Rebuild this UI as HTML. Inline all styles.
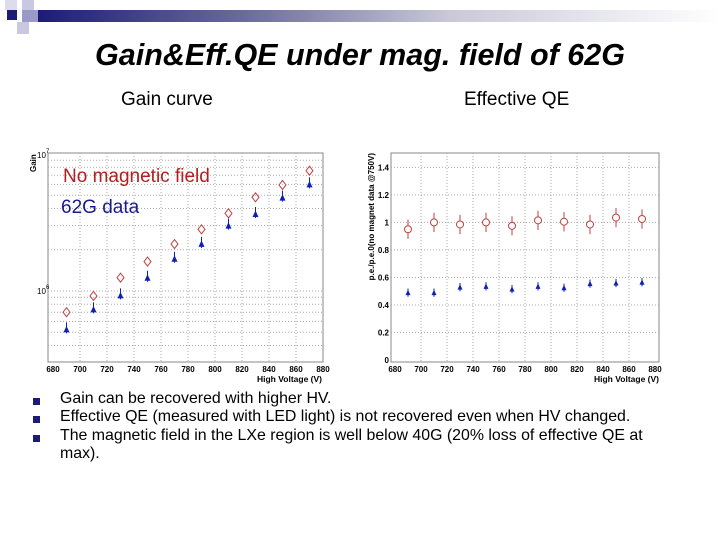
<!DOCTYPE html>
<html><head><meta charset="utf-8"><style>
body{margin:0;width:720px;height:540px;background:#fff;position:relative;overflow:hidden;font-family:"Liberation Sans",sans-serif}
.abs{position:absolute}
</style></head><body>
<div class="abs" style="left:38px;top:10px;width:682px;height:12px;background:linear-gradient(90deg,#1c1c78,#6a6a9a 30%,#c8c8d8 60%,#fff)"></div>
<div class="abs" style="left:7px;top:10px;width:10px;height:10px;background:#1c1c78"></div>
<div class="abs" style="left:22px;top:0px;width:12px;height:10px;background:#c8c8e0"></div>
<div class="abs" style="left:22px;top:10px;width:16px;height:12px;background:#9a9ac8"></div>
<div class="abs" style="left:17px;top:22px;width:12px;height:12px;background:#c8c8e0"></div>
<div class="abs" style="left:5px;top:0px;width:12px;height:10px;background:#dcdcec"></div>
<div class="abs" style="left:0;width:720px;top:38px;text-align:center;font-size:30.5px;font-weight:bold;font-style:italic">Gain&amp;Eff.QE under mag. field of 62G</div>
<div class="abs" style="left:121px;top:89px;font-size:19px">Gain curve</div>
<div class="abs" style="left:464px;top:89px;font-size:19px">Effective QE</div>
<svg class="abs" style="left:0;top:0" width="720" height="540" id="svg"></svg>
<div class="abs" style="left:60px;top:390px;font-size:15.9px;line-height:18.3px;width:600px">
<div>Gain can be recovered with higher HV.</div>
<div style="white-space:nowrap">Effective QE (measured with LED light) is not recovered even when HV changed.</div>
<div>The magnetic field in the LXe region is well below 40G (20% loss of effective QE at<br>max).</div>
</div>
<div class="abs" style="left:33px;top:398px;width:7px;height:7px;background:#1c1c78"></div>
<div class="abs" style="left:33px;top:416px;width:7px;height:7px;background:#1c1c78"></div>
<div class="abs" style="left:33px;top:435px;width:7px;height:7px;background:#1c1c78"></div>
<script>
const hv=[690,710,730,750,770,790,810,830,850,870];
const gainRed=[7.0e5,9.2e5,1.25e6,1.64e6,2.2e6,2.82e6,3.69e6,4.83e6,5.94e6,7.55e6];
const gainBlue=[5.25e5,7.35e5,9.3e5,1.25e6,1.72e6,2.21e6,3.0e6,3.65e6,4.8e6,6.0e6];
const qeRed=[0.95,1.0,0.985,1.0,0.975,1.015,1.005,0.985,1.035,1.025];
const qeBlue=[0.49,0.49,0.53,0.535,0.515,0.535,0.525,0.555,0.56,0.565];
const xTicks=[680,700,720,740,760,780,800,820,840,860,880];
const qeTicks=[0,0.2,0.4,0.6,0.8,1,1.2,1.4];
const svg=document.getElementById('svg');const NS='http://www.w3.org/2000/svg';
function el(t,a,txt){const e=document.createElementNS(NS,t);for(const k in a)e.setAttribute(k,a[k]);if(txt!==undefined)e.textContent=txt;svg.appendChild(e);return e;}
// left chart
const L={x0:48,x1:323,y0:153,y1:362};
const gx=v=>53+(v-680)*(323-53)/200;
const gy=v=>154+(7-Math.log10(v))*137;
const r1=el('rect',{x:L.x0,y:L.y0,width:L.x1-L.x0,height:L.y1-L.y0,fill:'#fff',stroke:'#888'});

for(const t of xTicks){const x=gx(t);if(t>680&&t<880){const g=el('line',{x1:x,x2:x,y1:L.y0,y2:L.y1,stroke:'#aaa','stroke-dasharray':'1,2'});}
const tl=el('text',{x:x,y:372,'font-size':8,'font-weight':'bold','text-anchor':'middle'},t);}
for(const d of [3e5,4e5,5e5,6e5,7e5,8e5,9e5,1e6,2e6,3e6,4e6,5e6,6e6,7e6,8e6,9e6]){const y=gy(d);if(y<L.y1&&y>L.y0){const g=el('line',{x1:L.x0,x2:L.x1,y1:y,y2:y,stroke:'#aaa','stroke-dasharray':'1,2'});}}
let t1=el('text',{x:37,y:158,'font-size':8},'10');
t1=el('text',{x:46,y:153,'font-size':6},'7');
t1=el('text',{x:37,y:294,'font-size':8},'10');
t1=el('text',{x:46,y:289,'font-size':6},'6');
let yl=el('text',{x:0,y:0,'font-size':8,'font-weight':'bold',transform:'translate(36,172) rotate(-90)'},'Gain');
let xl=el('text',{x:322,y:382,'font-size':8.5,'font-weight':'bold','text-anchor':'end'},'High Voltage (V)');
hv.forEach((v,i)=>{const x=gx(v);let y=gy(gainRed[i]);
const m=el('path',{d:`M${x} ${y-4.5}L${x+3.5} ${y}L${x} ${y+4.5}L${x-3.5} ${y}Z`,fill:'none',stroke:'#c04040'});
y=gy(gainBlue[i]);const b=el('path',{d:`M${x} ${y-3.5}L${x+3} ${y+3}L${x-3} ${y+3}Z`,fill:'#1020b0'});
const e=el('line',{x1:x,x2:x,y1:y-7,y2:y+4,stroke:'#1020b0'});});
let lg=el('text',{x:63,y:182,'font-size':19,fill:'#b02020'},'No magnetic field');
lg=el('text',{x:61,y:213,'font-size':19,fill:'#1a1a90'},'62G data');
// right chart
const R={x0:391,x1:659,y0:153,y1:362};
const qx=v=>395+(v-680)*(655-395)/200;
const qy=v=>360-v*137.6;
const r2=el('rect',{x:R.x0,y:R.y0,width:R.x1-R.x0,height:R.y1-R.y0,fill:'#fff',stroke:'#888'});
for(const t of xTicks){const x=qx(t);if(t>680&&t<880){const g=el('line',{x1:x,x2:x,y1:R.y0,y2:R.y1,stroke:'#aaa','stroke-dasharray':'1,2'});}
const tl=el('text',{x:x,y:372,'font-size':8,'font-weight':'bold','text-anchor':'middle'},t);}
for(const t of qeTicks){const y=qy(t);if(t>0){const g=el('line',{x1:R.x0,x2:R.x1,y1:y,y2:y,stroke:'#aaa','stroke-dasharray':'1,2'});}
const tl=el('text',{x:389,y:y+3,'font-size':8,'font-weight':'bold','text-anchor':'end'},t);}
yl=el('text',{x:0,y:0,'font-size':8,'font-weight':'bold','text-anchor':'end',transform:'translate(374,153) rotate(-90)'},'p.e./p.e.0(no magnet data @750V)');
xl=el('text',{x:659,y:382,'font-size':8.5,'font-weight':'bold','text-anchor':'end'},'High Voltage (V)');
hv.forEach((v,i)=>{const x=qx(v);let y=qy(qeRed[i]);
const e=el('line',{x1:x,x2:x,y1:qy(qeRed[i]+0.07),y2:qy(qeRed[i]-0.07),stroke:'#c04040'});
const c=el('circle',{cx:x,cy:y,r:3.5,fill:'#fff',stroke:'#c04040'});
y=qy(qeBlue[i]);const e2=el('line',{x1:x,x2:x,y1:qy(qeBlue[i]+0.03),y2:qy(qeBlue[i]-0.03),stroke:'#1020b0'});
const b=el('path',{d:`M${x} ${y-3}L${x+2.5} ${y+2.5}L${x-2.5} ${y+2.5}Z`,fill:'#1020b0'});});
</script>
</body></html>
